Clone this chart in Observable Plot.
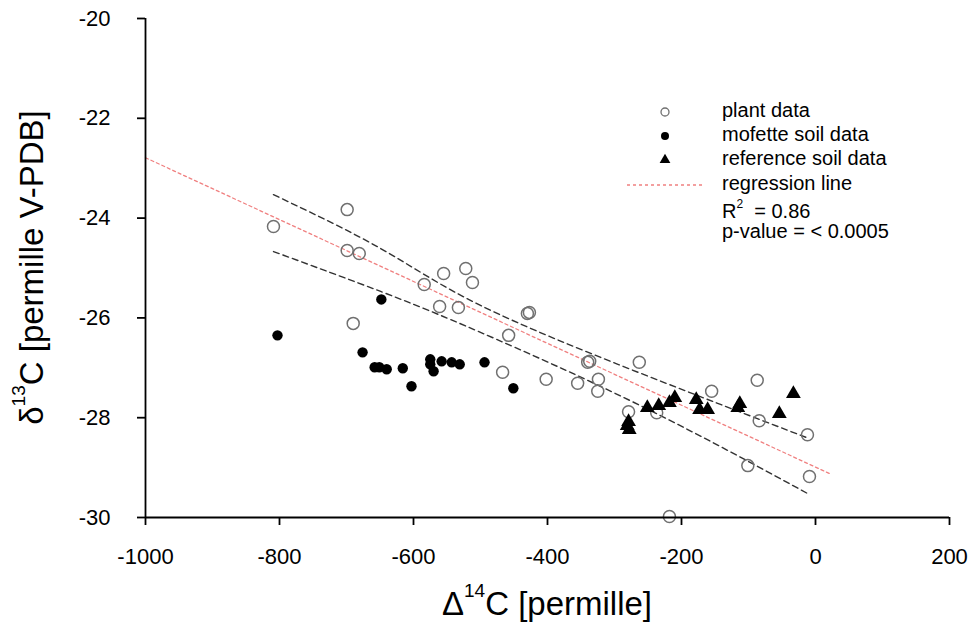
<!DOCTYPE html>
<html><head><meta charset="utf-8">
<script src="https://cdn.jsdelivr.net/npm/d3@7"></script>
<script src="https://cdn.jsdelivr.net/npm/@observablehq/plot@0.6"></script>
<style>
body{margin:0;background:#fff;font-family:"Liberation Sans",Arial,sans-serif}
#chart{position:relative;width:972px;height:624px}
</style>
</head><body><div id="chart"></div>
<script>
// plant data (open circles)
const plantX = [-809,-699,-699,-681,-690,-584,-555,-522,-512,-561,-533,-430,-427,-458,-467,-402,-355,-324,-325,-340,-337,-263,-279,-237,-155,-87,-84,-12,-101,-9,-218];
const plantY = [-24.17,-23.83,-24.65,-24.71,-26.11,-25.33,-25.11,-25.01,-25.29,-25.77,-25.79,-25.91,-25.89,-26.35,-27.09,-27.23,-27.31,-27.23,-27.47,-26.89,-26.87,-26.89,-27.88,-27.90,-27.47,-27.25,-28.06,-28.34,-28.96,-29.18,-29.98];
// mofette soil data (filled circles)
const mofetteX = [-803,-648,-676,-658,-651,-640,-616,-603,-575,-575,-570,-558,-543,-531,-494,-451];
const mofetteY = [-26.35,-25.63,-26.69,-26.99,-26.99,-27.03,-27.01,-27.37,-26.83,-26.93,-27.07,-26.87,-26.89,-26.93,-26.89,-27.41];
// reference soil data (triangles)
const refX = [-279,-281,-278,-251,-234,-218,-210,-178,-173,-161,-113,-116,-54,-33];
const refY = [-28.08,-28.16,-28.24,-27.80,-27.76,-27.70,-27.60,-27.64,-27.84,-27.84,-27.72,-27.80,-27.92,-27.52];
// regression line
const regX = [-1000, 21];
const regY = [-22.79, -29.12];
// confidence band
const bandX = [-809, -649, -500, -261, -9];
const bandUpper = [-23.53, -24.61, -25.75, -27.11, -28.42];
const bandLower = [-24.67, -25.47, -26.29, -27.76, -29.54];
// ticks
const xTicks = [-1000, -800, -600, -400, -200, 0, 200];
const yTicks = [-30, -28, -26, -24, -22, -20];
// legend
const legendLabels = ["plant data", "mofette soil data", "reference soil data", "regression line"];
const statLabels = ["0.86", "< 0.0005"];

const toPts = (xs, ys) => xs.map((x, i) => ({x, y: ys[i]}));
const FONT = "'Liberation Sans', Arial, sans-serif";

const plot = Plot.plot({
  width: 972, height: 624,
  marginLeft: 145, marginRight: 23, marginTop: 18, marginBottom: 107,
  x: {domain: [-1000, 200]},
  y: {domain: [-30, -20]},
  style: {fontFamily: FONT, color: "#000", background: "#fff", overflow: "visible"},
  marks: [
    Plot.line(toPts(regX, regY), {x: "x", y: "y", stroke: "#f08080", strokeWidth: 1.3, strokeDasharray: "3,3"}),
    Plot.line(toPts(bandX, bandUpper), {x: "x", y: "y", stroke: "#333", strokeWidth: 1.4, strokeDasharray: "6,4", curve: "natural"}),
    Plot.line(toPts(bandX, bandLower), {x: "x", y: "y", stroke: "#333", strokeWidth: 1.4, strokeDasharray: "6,4", curve: "natural"}),
    Plot.dot(toPts(plantX, plantY), {x: "x", y: "y", r: 6, stroke: "#707070", strokeWidth: 1.5, fill: "none"}),
    Plot.dot(toPts(mofetteX, mofetteY), {x: "x", y: "y", r: 5.2, fill: "#000", stroke: "none"}),
    Plot.dot(toPts(refX, refY), {x: "x", y: "y", r: 5.5, symbol: "triangle", fill: "#000", stroke: "none"}),
    Plot.axisX({ticks: xTicks, tickSize: 8, tickPadding: 23, label: null, fontSize: 22, tickFormat: d => String(d), strokeWidth: 1.8}),
    Plot.axisY({ticks: yTicks, tickSize: 8, tickPadding: 27, label: null, fontSize: 22, tickFormat: d => String(d), strokeWidth: 1.8}),
    Plot.ruleX([-1000], {y1: -30, y2: -20, strokeWidth: 1.8}),
    Plot.ruleY([-30], {x1: -1000, x2: 200, strokeWidth: 1.8})
  ]
});
document.getElementById("chart").appendChild(plot);

const svg = d3.select(plot);
const xs = plot.scale("x"), ys = plot.scale("y");
const cx = (xs.range[0] + xs.range[1]) / 2;
const cy = (ys.range[0] + ys.range[1]) / 2;

// axis titles with superscripts
const xt = svg.append("text").attr("x", cx).attr("y", 606).attr("text-anchor", "middle")
  .attr("dominant-baseline", "middle").attr("font-family", FONT).attr("font-size", 33).attr("fill", "#000");
xt.append("tspan").text("Δ");
xt.append("tspan").attr("font-size", 19).attr("dy", -14).text("14");
xt.append("tspan").attr("dy", 14).text("C [permille]");

const yt = svg.append("text").attr("transform", `translate(34,${cy}) rotate(-90)`).attr("text-anchor", "middle")
  .attr("dominant-baseline", "middle").attr("font-family", FONT).attr("font-size", 33).attr("fill", "#000");
yt.append("tspan").text("δ");
yt.append("tspan").attr("font-size", 19).attr("dy", -14).text("13");
yt.append("tspan").attr("dy", 14).text("C [permille V-PDB]");

// legend
const lg = svg.append("g").attr("font-family", FONT).attr("font-size", 20).attr("fill", "#000").attr("text-anchor", "start");
const symX = 665, txtX = 722, rows = [112, 136, 160, 185];
lg.append("circle").attr("cx", symX).attr("cy", rows[0]).attr("r", 4).attr("fill", "none").attr("stroke", "#707070").attr("stroke-width", 1.3);
lg.append("circle").attr("cx", symX).attr("cy", rows[1]).attr("r", 4).attr("fill", "#000");
lg.append("path").attr("transform", `translate(${symX},${rows[2]})`).attr("d", d3.symbol(d3.symbolTriangle, 50)()).attr("fill", "#000");
lg.append("line").attr("x1", 627).attr("x2", 703).attr("y1", rows[3]).attr("y2", rows[3])
  .attr("stroke", "#f08080").attr("stroke-width", 1.3).attr("stroke-dasharray", "3,3");
legendLabels.forEach((t, i) => {
  lg.append("text").attr("x", txtX).attr("y", rows[i]).attr("dominant-baseline", "middle").attr("text-anchor", "start").text(t);
});
const r2 = lg.append("text").attr("x", txtX).attr("y", 213).attr("dominant-baseline", "middle").attr("text-anchor", "start");
r2.append("tspan").text("R");
r2.append("tspan").attr("font-size", 12).attr("dy", -8).text("2");
r2.append("tspan").attr("dy", 8).text("\u00a0 = " + statLabels[0]);
lg.append("text").attr("x", txtX).attr("y", 233).attr("dominant-baseline", "middle").attr("text-anchor", "start").text("p-value = " + statLabels[1]);
</script>
</body></html>
